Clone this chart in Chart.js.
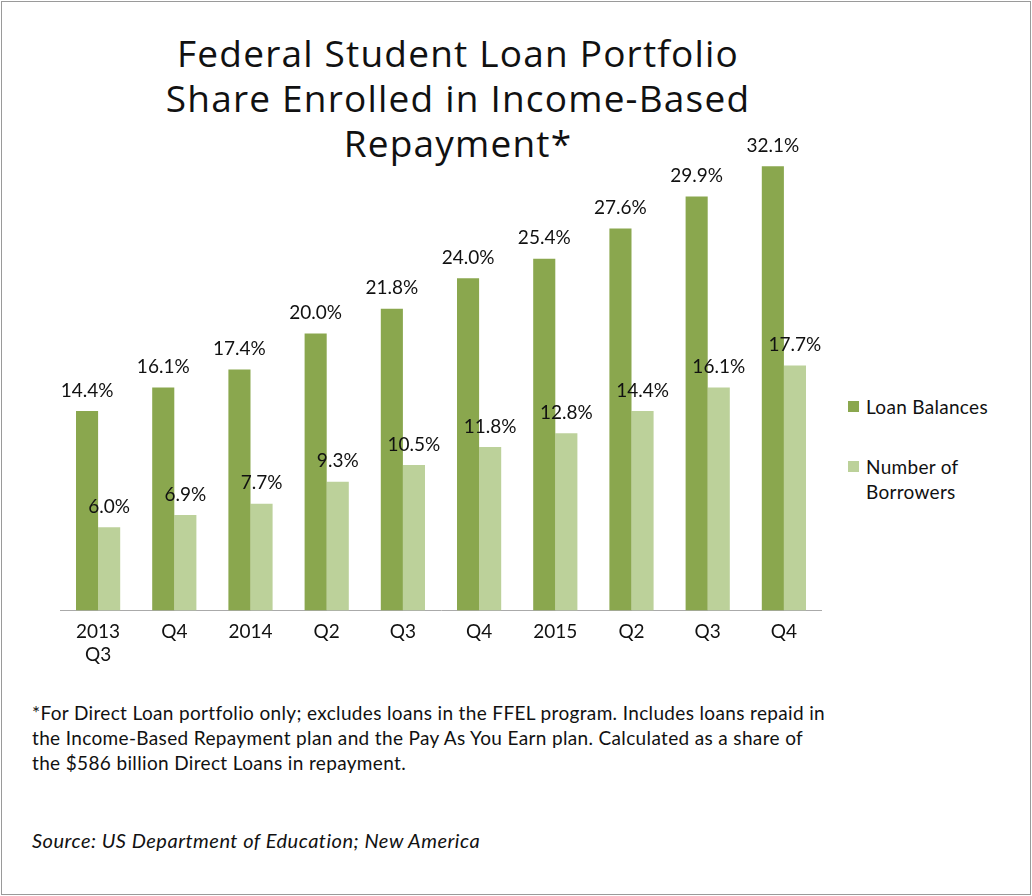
<!DOCTYPE html>
<html><head><meta charset="utf-8">
<script src="https://cdn.jsdelivr.net/npm/chart.js@4"></script>
<style>
body{margin:0;background:#fff;font-family:Lato,"Open Sans",sans-serif;}
#frame{position:absolute;left:1px;top:1px;width:1028px;height:892px;border:1px solid #9a9a9a;}
#title{position:absolute;left:88px;width:740px;top:30px;text-align:center;font-size:37px;line-height:45px;color:#111;font-family:"Open Sans",sans-serif;letter-spacing:1.2px;}
#wrap{position:absolute;left:60px;top:126px;width:762px;height:550px;}
.leg{position:absolute;left:848px;font-size:19px;color:#111;line-height:25px;letter-spacing:0.3px;}
.sw{position:absolute;left:-0px;width:11px;height:11px;}
#note{position:absolute;left:32px;top:700px;width:800px;font-size:19px;line-height:25px;color:#111;letter-spacing:0.35px;}
#src{position:absolute;left:32px;top:828px;font-size:20px;font-style:italic;color:#111;letter-spacing:0.5px;}
</style></head><body>
<div id="frame"></div>
<div id="title">Federal Student Loan Portfolio<br>Share Enrolled in Income-Based<br>Repayment*</div>
<div id="wrap"><canvas id="c"></canvas></div>
<div class="leg" style="top:394px"><span class="sw" style="background:#8aa74e;top:7px"></span><span style="margin-left:18px">Loan Balances</span></div>
<div class="leg" style="top:454px"><span class="sw" style="background:#bcd19a;top:7px"></span><div style="margin-left:18px">Number of<br>Borrowers</div></div>
<div id="note">*For Direct Loan portfolio only; excludes loans in the FFEL program. Includes loans repaid in<br>the Income-Based Repayment plan and the Pay As You Earn plan. Calculated as a share of<br>the $586 billion Direct Loans in repayment.</div>
<div id="src">Source: US Department of Education; New America</div>
<script>
const categories=[["2013","Q3"],"Q4","2014","Q2","Q3","Q4","2015","Q2","Q3","Q4"];
const loanBalances=[14.4,16.1,17.4,20.0,21.8,24.0,25.4,27.6,29.9,32.1];
const borrowers=[6.0,6.9,7.7,9.3,10.5,11.8,12.8,14.4,16.1,17.7];
const labelPlugin={id:'lbl',afterDatasetsDraw(ch){const ctx=ch.ctx;ctx.save();ctx.font='19px Lato, "Open Sans", sans-serif';ctx.fillStyle='#111';ctx.textAlign='center';ctx.textBaseline='bottom';
ch.data.datasets.forEach((ds,i)=>{ch.getDatasetMeta(i).data.forEach((b,j)=>{ctx.fillText(ds.data[j].toFixed(1)+'%',b.x,b.y-11);});});ctx.restore();}};
new Chart(document.getElementById('c'),{type:'bar',
data:{labels:categories,datasets:[
{label:'Loan Balances',data:loanBalances,backgroundColor:'#8aa74e'},
{label:'Number of Borrowers',data:borrowers,backgroundColor:'#bcd19a'}]},
options:{responsive:true,maintainAspectRatio:false,animation:false,
layout:{padding:0},
plugins:{legend:{display:false},tooltip:{enabled:false}},
datasets:{bar:{categoryPercentage:0.58,barPercentage:1}},
scales:{y:{display:false,min:0,max:35},
x:{grid:{display:false,drawTicks:false},border:{color:'#aaa'},ticks:{color:'#111',padding:10,font:{size:19,family:'Lato, "Open Sans", sans-serif'}}}}},
plugins:[labelPlugin]});
</script></body></html>
